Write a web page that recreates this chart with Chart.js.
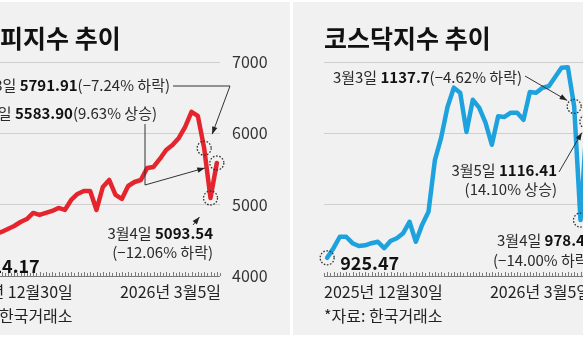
<!DOCTYPE html>
<html>
<head>
<meta charset="utf-8">
<script src="https://cdn.jsdelivr.net/npm/chart.js@4.4.1/dist/chart.umd.min.js"></script>
<style>
html,body{margin:0;padding:0;width:583px;height:344px;overflow:hidden;background:#fff}
.panel{position:absolute;top:2px;width:367px;height:333px;background:#f1f1f1}
canvas{position:absolute;top:0}
</style>
</head>
<body>
<div class="panel" style="left:-77px;width:367px"></div>
<div class="panel" style="left:293px"></div>
<canvas id="kospiChart" width="367" height="344" style="left:-77px"></canvas>
<canvas id="kosdaqChart" width="367" height="344" style="left:293px"></canvas>
<script>
// trading days 2025-12-30 .. 2026-03-05
const days = ["12/30","1/2","1/5","1/6","1/7","1/8","1/9","1/12","1/13","1/14","1/15","1/16",
  "1/19","1/20","1/21","1/22","1/23","1/26","1/27","1/28","1/29","1/30",
  "2/2","2/3","2/4","2/5","2/6","2/9","2/10","2/11","2/12","2/13","2/19","2/20",
  "2/23","2/24","2/25","2/26","2/27","3/3","3/4","3/5"];
const kospi = [4214.17,4309,4457,4525,4551,4552,4586,4617,4659,4701,4757,4799,
  4884,4856,4884,4912,4954,4926,5066,5150,5192,5192,
  4926,5248,5346,5136,5080,5262,5318,5346,5515,5529,5641,5767,
  5837,5935,6090,6300,6244,5791.91,5093.54,5583.90];
const kosdaq = [925.47,939,955,955,946,942,943,946,948,939,949,953,
  960,976,948,972,990,1062,1094,1137,1164,1157,
  1102,1147,1136,1115,1084,1124,1123,1129,1129,1119,1158,1157,
  1164,1166,1179,1192,1192.8,1137.7,978.44,1116.41];
const kospiTicks = [4000,5000,6000,7000];
const kosdaqTicks = [900,1000,1100,1200];
const firstDayLabel = "2025년 12월30일";
const lastDayLabel = "2026년 3월5일";
const source = "*자료: 한국거래소";

const FONT = '"Noto Sans CJK KR", sans-serif';

function richText(ctx, x, y, parts, size, align){
  const w = parts.reduce((s,p)=>{ ctx.font = (p.b?'bold ':'')+size+'px '+FONT; return s+ctx.measureText(p.t).width; }, 0);
  let cx = align==='right' ? x-w : x;
  parts.forEach(p=>{
    ctx.font = (p.b?'bold ':'')+size+'px '+FONT;
    ctx.fillStyle = p.b ? '#111' : '#2a2a2a';
    ctx.fillText(p.t, cx, y);
    cx += ctx.measureText(p.t).width;
  });
}

function arrow(ctx, path){
  ctx.beginPath();
  ctx.moveTo(path[0][0], path[0][1]);
  path.slice(1).forEach(p=>ctx.lineTo(p[0], p[1]));
  ctx.stroke();
  const [x1,y1] = path[path.length-2], [x2,y2] = path[path.length-1];
  const ang = Math.atan2(y2-y1, x2-x1);
  ctx.beginPath();
  ctx.moveTo(x2, y2);
  ctx.lineTo(x2-8*Math.cos(ang-0.35), y2-8*Math.sin(ang-0.35));
  ctx.lineTo(x2-8*Math.cos(ang+0.35), y2-8*Math.sin(ang+0.35));
  ctx.closePath();
  ctx.fill();
}

const overlay = {
  id: 'overlay',
  afterDatasetsDraw(chart, args, o){
    const ctx = chart.ctx, pts = chart.getDatasetMeta(0).data;
    const xs = chart.scales.x, a = chart.chartArea;
    ctx.save();
    ctx.textBaseline = 'middle';
    // title
    ctx.fillStyle = '#111';
    ctx.font = 'bold 25px ' + FONT;
    ctx.fillText(o.title, 31, 38);
    // axis tick marks
    ctx.strokeStyle = '#7a7a7a'; ctx.lineWidth = 1;
    ctx.beginPath();
    ctx.moveTo(a.left, a.bottom+0.5); ctx.lineTo(a.right, a.bottom+0.5);
    for (let v = xs.min; v <= xs.max + 1e-6; v += 0.5){
      const px = Math.round(xs.getPixelForValue(v)) + 0.5;
      ctx.moveTo(px, a.bottom); ctx.lineTo(px, a.bottom - (Number.isInteger(v) ? 4 : 3));
    }
    ctx.stroke();
    // x labels + source
    ctx.fillStyle = '#222';
    ctx.font = '16px ' + FONT;
    ctx.textAlign = 'left';
    ctx.fillText(firstDayLabel, 31, 292);
    ctx.fillText(source, 31, 316);
    ctx.textAlign = 'right';
    ctx.fillText(lastDayLabel, 298, 292);
    ctx.textAlign = 'left';
    // dotted circles
    ctx.strokeStyle = '#333'; ctx.lineWidth = 1.3; ctx.setLineDash([1.6,1.6]);
    [0,39,40,41].forEach(i=>{
      ctx.beginPath(); ctx.arc(pts[i].x, pts[i].y, 7, 0, Math.PI*2); ctx.stroke();
    });
    ctx.setLineDash([]);
    // start value
    ctx.fillStyle = '#111';
    ctx.font = 'bold 18px ' + FONT;
    ctx.fillText(o.start, pts[0].x + 13, pts[0].y + 5);
    // notes
    o.notes.forEach(n=>richText(ctx, n.x, n.y, n.parts, 15, n.align));
    // arrows
    ctx.strokeStyle = '#333'; ctx.fillStyle = '#222'; ctx.lineWidth = 1;
    o.arrows(pts).forEach(p=>arrow(ctx, p));
    ctx.restore();
  }
};

function makeChart(id, values, ticks, color, overlayOpts){
  new Chart(document.getElementById(id).getContext('2d'), {
    type: 'line',
    data: { datasets: [{ data: values.map((v,i)=>({x:i, y:v})), borderColor: color, borderWidth: 4.5,
      pointRadius: 0, tension: 0, borderJoinStyle: 'round', borderCapStyle: 'round' }] },
    options: {
      responsive: false, animation: false,
      layout: { padding: { left: 31, top: 62, bottom: 68, right: 0 } },
      scales: {
        x: { type: 'linear', display: false, min: -0.5, max: days.length - 0.5 },
        y: { position: 'right', min: ticks[0], max: ticks[ticks.length-1],
          afterBuildTicks(s){ s.ticks = ticks.map(v=>({value:v})); },
          afterFit(s){ s.width = 70; },
          grid: { color: '#cfcfcf', drawTicks: false },
          border: { display: false },
          ticks: { padding: 12, color: '#333', font: { size: 16, family: FONT }, callback: v => String(v) } }
      },
      plugins: { legend: { display: false }, tooltip: { enabled: false }, overlay: overlayOpts }
    },
    plugins: [overlay]
  });
}

makeChart('kospiChart', kospi, kospiTicks, '#e5252d', {
  title: '코스피지수 추이', start: '4214.17',
  notes: [
    { x: 247, y: 85, align: 'right', parts: [{t:'3월3일 '},{t:'5791.91',b:true},{t:'(−7.24% 하락)'}] },
    { x: 234, y: 113, align: 'right', parts: [{t:'3월5일 '},{t:'5583.90',b:true},{t:'(9.63% 상승)'}] },
    { x: 290, y: 233, align: 'right', parts: [{t:'3월4일 '},{t:'5093.54',b:true}] },
    { x: 290, y: 252, align: 'right', parts: [{t:'(−12.06% 하락)'}] }
  ],
  arrows: p => [
    [[250,86],[307,86],[p[39].x+8, p[39].y-14]],
    [[222,124],[222,185],[p[41].x-12, p[41].y+5]],
    [[270,225],[p[40].x-11, p[40].y+19]]
  ]
});

makeChart('kosdaqChart', kosdaq, kosdaqTicks, '#1ea2de', {
  title: '코스닥지수 추이', start: '925.47',
  notes: [
    { x: 229, y: 77, align: 'right', parts: [{t:'3월3일 '},{t:'1137.7',b:true},{t:'(−4.62% 하락)'}] },
    { x: 264, y: 170, align: 'right', parts: [{t:'3월5일 '},{t:'1116.41',b:true}] },
    { x: 264, y: 189, align: 'right', parts: [{t:'(14.10% 상승)'}] },
    { x: 204, y: 240, align: 'left', parts: [{t:'3월4일 '},{t:'978.44',b:true}] },
    { x: 200, y: 260, align: 'left', parts: [{t:'(−14.00% 하락)'}] }
  ],
  arrows: p => [
    [[232,76],[p[39].x-7, p[39].y-6]],
    [[266,172],[p[41].x-5, p[41].y+11]]
  ]
});
</script>
</body>
</html>
